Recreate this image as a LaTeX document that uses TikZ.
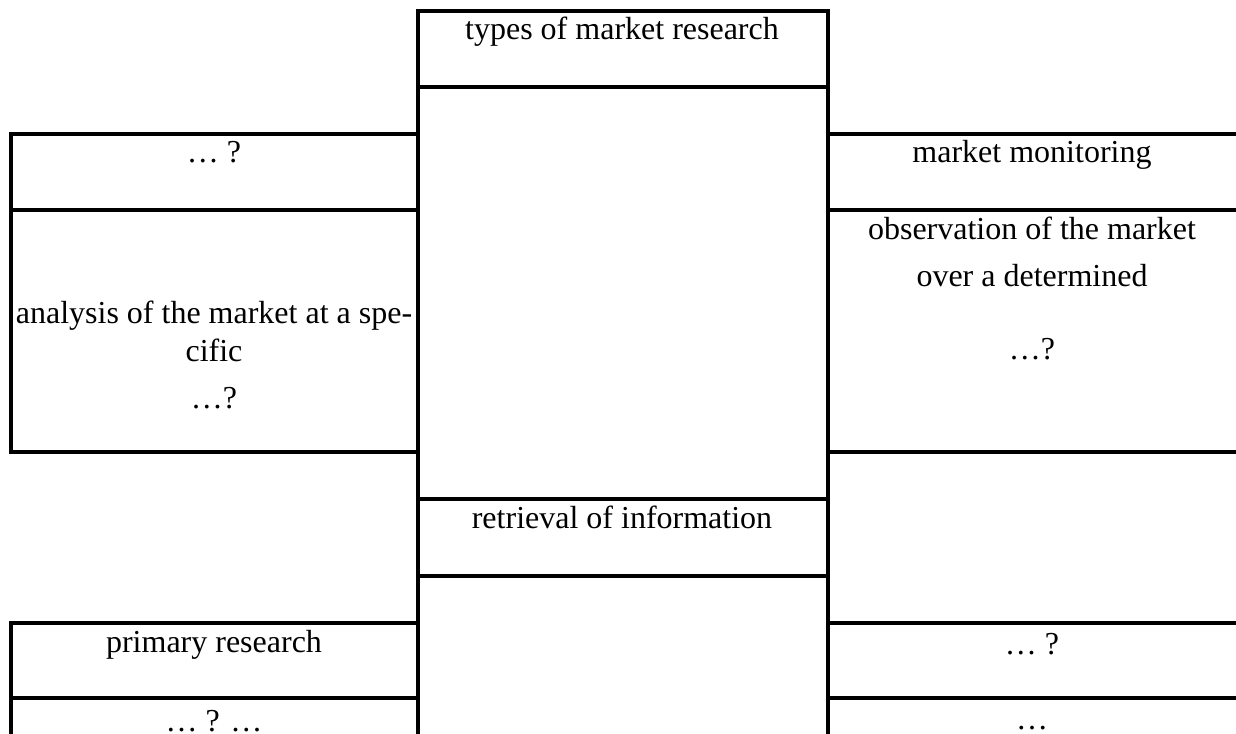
\documentclass[tikz,border=0pt]{standalone}
\usepackage{fontspec}
\setmainfont{Liberation Serif}
\begin{document}
\begin{tikzpicture}[x=0.375pt, y=-0.375pt, line width=1.25pt,
    lbl/.style={anchor=base, inner sep=0pt, align=center, font=\fontsize{12}{14.25}\selectfont}]
    \useasboundingbox (0,0) rectangle (1236,734);

    % middle column
    \draw (418,734) -- (418,11) -- (828,11) -- (828,734);
    \draw (418,87) -- (828,87);
    \draw (418,499) -- (828,499);
    \draw (418,576) -- (828,576);

    % left side
    \draw (418,134) -- (11,134) -- (11,452) -- (418,452);
    \draw (11,210) -- (418,210);
    \draw (418,623) -- (11,623) -- (11,734);
    \draw (11,698) -- (418,698);

    % right side
    \draw (828,134) -- (1236,134);
    \draw (828,210) -- (1236,210);
    \draw (828,452) -- (1236,452);
    \draw (828,623) -- (1236,623);
    \draw (828,698) -- (1236,698);

    \node[lbl] (types) at (622,40) {types of market research};
    \node[lbl] (retrieval) at (622,529) {retrieval of information};

    % base of a multi-line label = its last line
    \node[lbl] (leftq) at (214,163) {… ?};
    \node[lbl] (analysis) at (214,409) {analysis of the market at a spe-\\ cific\\[3.4pt] …?};
    \node[lbl] (primary) at (214,653) {primary research};
    \node[lbl] (leftdots) at (214,731) {… ? …};

    \node[lbl] (monitoring) at (1032,163) {market monitoring};
    \node[lbl] (observation) at (1032,360) {observation of the market\\[3.4pt] over a determined\\[13.2pt] …?};
    \node[lbl] (rightq) at (1032,654) {… ?};
    \node[lbl] (rightdots) at (1032,729) {…};
\end{tikzpicture}
\end{document}
